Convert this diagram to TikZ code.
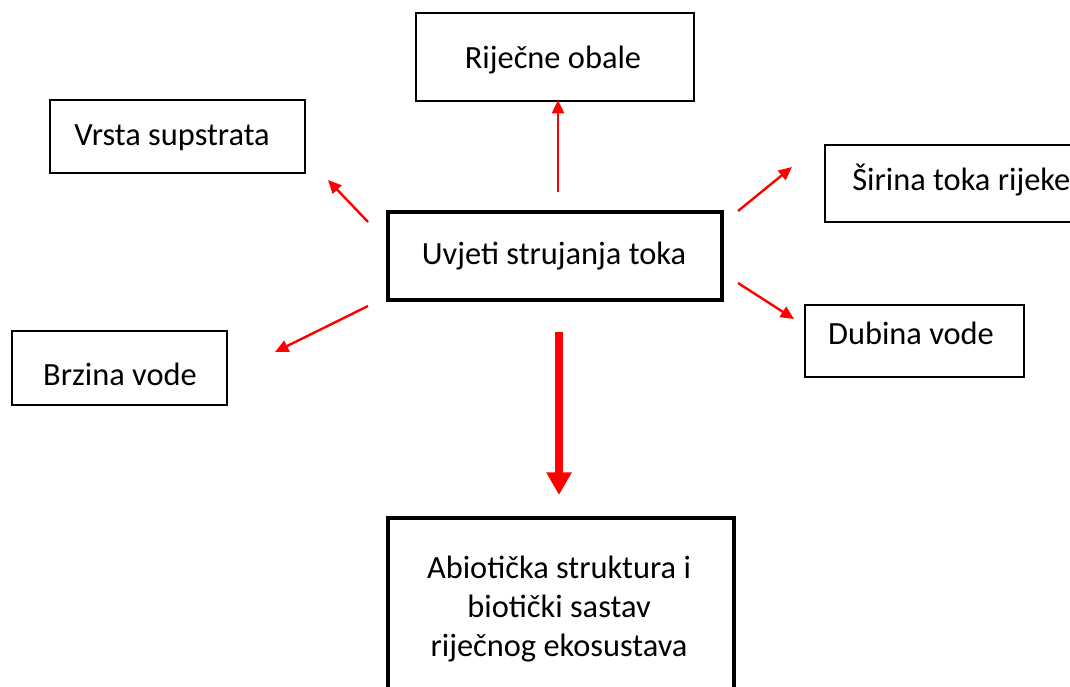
\documentclass[tikz,border=0pt]{standalone}
\usepackage{fontspec}
\setmainfont{Carlito}
\usetikzlibrary{arrows.meta}
\begin{document}
\begin{tikzpicture}[x=0.75pt,y=-0.75pt,
  thinbox/.style={draw=black,line width=1.1pt,inner sep=0pt},
  thickbox/.style={draw=black,line width=3pt,inner sep=0pt},
  txt/.style={font=\fontsize{24.3}{29}\selectfont,inner sep=0pt,align=center},
  redarrow/.style={draw=red,line width=1.8pt,-{Triangle[length=10pt,width=9pt]}},
  bigarrow/.style={draw=red,line width=6pt,-{Triangle[length=17pt,width=18pt]}}]
\useasboundingbox (0,0) rectangle (1070,686);
\clip (0,0) rectangle (1070,686);
% boxes
\node[thinbox,minimum width=278*0.75pt,minimum height=88*0.75pt] (obale) at (555,57) {};
\node[thinbox,minimum width=255*0.75pt,minimum height=73*0.75pt] (vrsta) at (177.5,136.5) {};
\node[thinbox,minimum width=270*0.75pt,minimum height=77*0.75pt] (sirina) at (960,183.5) {};
\node[thinbox,minimum width=219*0.75pt,minimum height=72*0.75pt] (dubina) at (914.5,341) {};
\node[thinbox,minimum width=215*0.75pt,minimum height=74*0.75pt] (brzina) at (119.5,368) {};
\node[thickbox,minimum width=334*0.75pt,minimum height=88*0.75pt] (uvjeti) at (555,256) {};
\node[thickbox,minimum width=346*0.75pt,minimum height=200*0.75pt] (abio) at (561,618) {};
% texts
\node[txt] (tobale) at (553,60) {Riječne obale};
\node[txt] (tvrsta) at (172,138) {Vrsta supstrata};
\node[txt,anchor=west] (tsirina) at (852,180) {Širina toka rijeke};
\node[txt] (tdubina) at (911,333) {Dubina vode};
\node[txt] (tbrzina) at (120,374) {Brzina vode};
\node[txt] (tuvjeti) at (554,256) {Uvjeti strujanja toka};
\node[txt] (tabio) at (559,609) {Abiotička struktura i\\biotički sastav\\riječnog ekosustava};
% arrow end points
\coordinate (a1s) at (558,192); \coordinate (a1e) at (558,100);
\coordinate (a2s) at (368,222); \coordinate (a2e) at (328,180);
\coordinate (a3s) at (368,306); \coordinate (a3e) at (275,352);
\coordinate (a4s) at (738,211); \coordinate (a4e) at (792,167);
\coordinate (a5s) at (738,283); \coordinate (a5e) at (794,319);
\coordinate (a6s) at (559,332); \coordinate (a6e) at (559,495);
\draw[redarrow] (a1s) -- (a1e);
\draw[redarrow] (a2s) -- (a2e);
\draw[redarrow] (a3s) -- (a3e);
\draw[redarrow] (a4s) -- (a4e);
\draw[redarrow] (a5s) -- (a5e);
\draw[bigarrow] (a6s) -- (a6e);
\end{tikzpicture}
\end{document}
